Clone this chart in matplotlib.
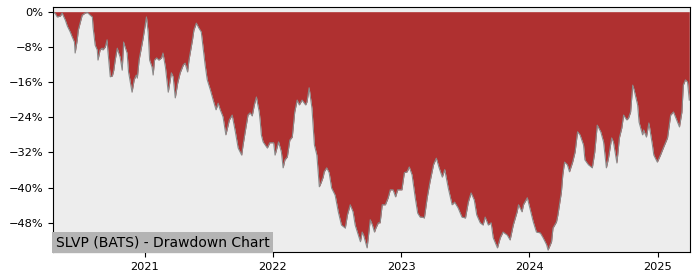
import pandas as pd
import matplotlib
matplotlib.use("Agg")
import matplotlib.pyplot as plt
import matplotlib.dates as mdates
from matplotlib.ticker import FuncFormatter

# -----------------------------
#  Data
# -----------------------------
dates = [
    "2020-04-16", "2020-04-22", "2020-04-27", "2020-05-06", "2020-05-11", "2020-05-20",
    "2020-05-26", "2020-06-03", "2020-06-09", "2020-06-15", "2020-06-17", "2020-06-23",
    "2020-06-26", "2020-07-02", "2020-07-07", "2020-07-16", "2020-07-22", "2020-07-30",
    "2020-08-05", "2020-08-07", "2020-08-13", "2020-08-19", "2020-08-21", "2020-08-27",
    "2020-09-02", "2020-09-04", "2020-09-11", "2020-09-16", "2020-09-18", "2020-09-25",
    "2020-10-01", "2020-10-05", "2020-10-09", "2020-10-15", "2020-10-19", "2020-10-23",
    "2020-10-29", "2020-11-02", "2020-11-06", "2020-11-12", "2020-11-16", "2020-11-20",
    "2020-11-26", "2020-12-02", "2020-12-08", "2020-12-11", "2020-12-16", "2020-12-24",
    "2020-12-28", "2021-01-06", "2021-01-11", "2021-01-15", "2021-01-22", "2021-01-25",
    "2021-01-29", "2021-02-04", "2021-02-10", "2021-02-18", "2021-02-22", "2021-03-01",
    "2021-03-05", "2021-03-09", "2021-03-18", "2021-03-23", "2021-03-29", "2021-04-05",
    "2021-04-12", "2021-04-21", "2021-04-26", "2021-05-03", "2021-05-07", "2021-05-17",
    "2021-05-21", "2021-05-28", "2021-06-04", "2021-06-11", "2021-06-16", "2021-06-22",
    "2021-06-28", "2021-07-07", "2021-07-15", "2021-07-23", "2021-07-29", "2021-08-04",
    "2021-08-12", "2021-08-20", "2021-08-30", "2021-09-07", "2021-09-16", "2021-09-24",
    "2021-10-04", "2021-10-08", "2021-10-14", "2021-10-22", "2021-10-28", "2021-11-03",
    "2021-11-09", "2021-11-15", "2021-11-19", "2021-11-23", "2021-11-26", "2021-11-29",
    "2021-12-04", "2021-12-16", "2021-12-23", "2022-01-03", "2022-01-07", "2022-01-17",
    "2022-01-25", "2022-01-30", "2022-02-04", "2022-02-11", "2022-02-18", "2022-02-25",
    "2022-03-04", "2022-03-11", "2022-03-17", "2022-03-25", "2022-04-04", "2022-04-08",
    "2022-04-14", "2022-04-22", "2022-04-29", "2022-05-06", "2022-05-13", "2022-05-18",
    "2022-05-24", "2022-05-27", "2022-06-03", "2022-06-10", "2022-06-17", "2022-06-27",
    "2022-07-06", "2022-07-15", "2022-07-26", "2022-08-01", "2022-08-09", "2022-08-17",
    "2022-08-23", "2022-09-01", "2022-09-07", "2022-09-12", "2022-09-16", "2022-09-26",
    "2022-10-05", "2022-10-11", "2022-10-17", "2022-10-21", "2022-10-28", "2022-11-02",
    "2022-11-08", "2022-11-17", "2022-11-25", "2022-12-01", "2022-12-09", "2022-12-16",
    "2022-12-22", "2023-01-03", "2023-01-10", "2023-01-18", "2023-01-24", "2023-02-01",
    "2023-02-10", "2023-02-17", "2023-02-24", "2023-03-02", "2023-03-08", "2023-03-16",
    "2023-03-24", "2023-04-03", "2023-04-11", "2023-04-19", "2023-04-28", "2023-05-05",
    "2023-05-15", "2023-05-26", "2023-06-02", "2023-06-12", "2023-06-23", "2023-07-03",
    "2023-07-11", "2023-07-19", "2023-07-28", "2023-08-04", "2023-08-14", "2023-08-22",
    "2023-08-28", "2023-09-06", "2023-09-14", "2023-09-20", "2023-10-02", "2023-10-10",
    "2023-10-18", "2023-10-30", "2023-11-07", "2023-11-16", "2023-11-27", "2023-12-01",
    "2023-12-11", "2023-12-15", "2023-12-26", "2024-01-02", "2024-01-12", "2024-01-21",
    "2024-02-01", "2024-02-09", "2024-02-19", "2024-02-23", "2024-03-04", "2024-03-08",
    "2024-03-18", "2024-03-22", "2024-04-01", "2024-04-05", "2024-04-10", "2024-04-18",
    "2024-04-24", "2024-05-03", "2024-05-10", "2024-05-17", "2024-05-24", "2024-06-03",
    "2024-06-07", "2024-06-17", "2024-06-28", "2024-07-05", "2024-07-12", "2024-07-22",
    "2024-07-30", "2024-08-07", "2024-08-13", "2024-08-22", "2024-08-27", "2024-09-06",
    "2024-09-13", "2024-09-20", "2024-09-25", "2024-10-04", "2024-10-09", "2024-10-15",
    "2024-10-21", "2024-10-25", "2024-11-04", "2024-11-08", "2024-11-18", "2024-11-21",
    "2024-11-29", "2024-12-06", "2024-12-16", "2024-12-20", "2024-12-30", "2025-01-08",
    "2025-01-17", "2025-01-28", "2025-02-06", "2025-02-14", "2025-02-21", "2025-03-03",
    "2025-03-10", "2025-03-14", "2025-03-20", "2025-03-26", "2025-03-31",
]

drawdown = [
    0.0, -0.5, -1.2, -1.0, -0.3, -1.9,
    -3.3, -4.6, -5.8, -6.9, -9.4, -6.4,
    -4.2, -2.3, -0.8, -0.3, -0.2, -0.8,
    -1.2, -3.5, -7.6, -8.7, -11.0, -8.7,
    -8.3, -8.7, -8.0, -6.4, -8.7, -14.8,
    -14.6, -13.3, -11.0, -8.3, -9.4, -10.3,
    -13.3, -6.9, -8.0, -9.4, -13.7, -15.5,
    -18.3, -15.5, -14.4, -15.1, -11.0, -7.6,
    -5.8, -1.2, -4.8, -11.0, -12.6, -14.4,
    -11.0, -10.5, -11.0, -10.5, -9.4, -12.6,
    -15.5, -18.3, -13.9, -14.8, -19.6, -16.2,
    -13.9, -12.1, -11.7, -13.7, -11.0, -6.4,
    -4.2, -2.6, -3.7, -4.6, -8.0, -12.1,
    -15.5, -17.8, -20.1, -22.3, -20.8, -22.3,
    -23.9, -28.0, -24.6, -23.5, -27.3, -31.0,
    -32.6, -30.3, -27.3, -23.5, -23.0, -23.7,
    -21.2, -19.4, -21.2, -22.8, -25.1, -28.0,
    -29.6, -31.0, -29.8, -29.8, -32.6, -29.6,
    -31.9, -35.5, -33.7, -33.0, -29.2, -28.5,
    -22.8, -20.1, -21.2, -20.1, -21.2, -20.5,
    -17.3, -21.9, -30.3, -32.6, -39.8, -38.9,
    -37.6, -36.4, -35.5, -36.6, -40.1, -41.7,
    -45.5, -48.5, -49.2, -46.2, -43.9, -45.5,
    -48.5, -50.8, -52.3, -50.1, -50.8, -53.7,
    -47.3, -48.5, -50.1, -49.2, -48.0, -48.0,
    -43.9, -43.9, -42.3, -40.5, -40.5, -42.1,
    -40.5, -40.5, -36.6, -36.4, -35.3, -37.1,
    -42.3, -45.8, -46.7, -46.7, -46.9, -42.3,
    -38.7, -34.8, -33.3, -35.5, -37.6, -35.9,
    -40.1, -43.9, -43.3, -44.6, -46.7, -46.9,
    -43.3, -41.2, -42.8, -46.2, -48.0, -48.5,
    -46.7, -48.5, -48.0, -51.4, -53.7, -51.4,
    -50.1, -50.8, -51.9, -48.5, -45.5, -43.9,
    -45.5, -43.9, -42.3, -44.6, -47.8, -50.1,
    -50.3, -51.4, -53.0, -54.2, -52.3, -49.2,
    -47.8, -46.2, -41.0, -37.1, -34.2, -34.8,
    -36.4, -34.2, -31.9, -27.3, -28.0, -30.3,
    -33.7, -34.8, -35.5, -31.9, -25.8, -27.3,
    -29.6, -35.5, -33.3, -28.7, -29.6, -34.4,
    -28.7, -26.4, -23.5, -24.6, -24.2, -22.8,
    -16.7, -17.8, -21.2, -25.1, -28.0, -26.9,
    -28.5, -25.3, -30.3, -32.6, -34.2, -32.6,
    -30.8, -28.7, -23.5, -22.8, -24.2, -26.2,
    -22.8, -16.7, -15.5, -16.0, -20.1,
]

y_ticks = [0, -8, -16, -24, -32, -40, -48]
title_label = "SLVP (BATS) - Drawdown Chart"

# -----------------------------
#  Plot
# -----------------------------
x = pd.to_datetime(dates)

fig = plt.figure(figsize=(7, 2.8), dpi=100)
ax = fig.add_axes([0.0757, 0.099, 0.91, 0.875])
ax.set_facecolor("#ededed")

ax.fill_between(x, drawdown, 0, color="#af3030", linewidth=0)
ax.plot(x, drawdown, color="#8a8a8a", linewidth=0.8)

ax.set_xlim(pd.Timestamp("2020-04-15"), pd.Timestamp("2025-04-02"))
ax.set_ylim(-54.7, 1.0)

ax.set_yticks(y_ticks)
ax.yaxis.set_major_formatter(FuncFormatter(lambda v, p: f"{v:.0f}%".replace("-", "\u2212")))
ax.xaxis.set_major_locator(mdates.YearLocator())
ax.xaxis.set_major_formatter(mdates.DateFormatter("%Y"))
ax.tick_params(labelsize=8.2, length=3.5)

ax.text(0.004, 0.012, title_label, transform=ax.transAxes, fontsize=10,
        ha="left", va="bottom",
        bbox=dict(facecolor="#b4b4b4", edgecolor="none", pad=2.5))

fig.savefig("out.png", dpi=100)
